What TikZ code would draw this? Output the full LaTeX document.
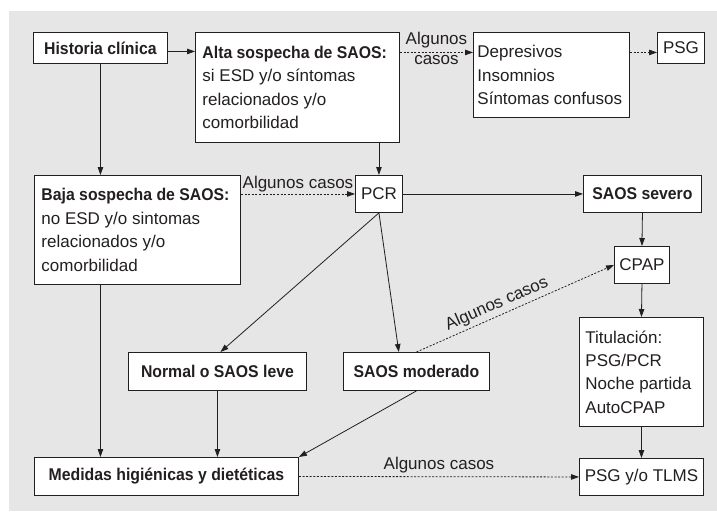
\documentclass[tikz,border=0pt]{standalone}
\usepackage{fontspec}
\setmainfont{Liberation Sans}[BoldFeatures={FakeStretch=0.93}]
\usetikzlibrary{arrows.meta,calc}
\definecolor{bggray}{RGB}{230,230,230}
\definecolor{ink}{RGB}{35,31,32}
\begin{document}
\begin{tikzpicture}[x=1pt,y=-1pt,
  every node/.style={font=\fontsize{17}{23.4}\selectfont, text=ink},
  sbox/.style={draw=ink, line width=0.9pt, fill=white, anchor=north west,
    inner sep=0pt, align=center},
  mbox/.style={draw=ink, line width=0.9pt, fill=white, anchor=north west,
    inner xsep=7pt, inner ysep=0pt, align=flush left},
  arr/.style={draw=ink, line width=0.8pt, -{Triangle[length=8pt,width=5.5pt]}},
  dsh/.style={arr, dash pattern=on 2pt off 1.6pt}
]
\useasboundingbox (0,0) rectangle (717,511);
\fill[bggray] (9,11) rectangle (717,511);

% nodes
\node[sbox, minimum width=134pt, minimum height=31pt] (hist) at (33,32) {\textbf{Historia clínica}};
\node[mbox, text width=190pt, minimum height=110pt] (alta) at (195,32)
  {\textbf{Alta sospecha de SAOS:}\\si ESD y/o síntomas\\relacionados y/o\\comorbilidad};
\node[mbox, inner xsep=4pt, text width=148pt, minimum height=85pt] (dep) at (473,32)
  {Depresivos\\Insomnios\\Síntomas confusos};
\node[sbox, minimum width=47pt, minimum height=31pt] (psga) at (657,32) {PSG};
\node[mbox, text width=192pt, minimum height=109pt] (baja) at (34,175)
  {\textbf{Baja sospecha de SAOS:}\\no ESD y/o sintomas\\relacionados y/o\\comorbilidad};
\node[sbox, minimum width=47pt, minimum height=37pt] (pcr) at (355,175) {PCR};
\node[sbox, minimum width=118pt, minimum height=37pt] (sev) at (583,175) {\textbf{SAOS severo}};
\node[sbox, minimum width=55pt, minimum height=37pt] (cpap) at (614,246) {CPAP};
\node[mbox, inner xsep=6pt, text width=112pt, minimum height=109pt] (tit) at (579,317)
  {Titulación:\\PSG/PCR\\Noche partida\\AutoCPAP};
\node[sbox, minimum width=124pt, minimum height=37pt] (tlms) at (579,458) {PSG y/o TLMS};
\node[sbox, minimum width=178pt, minimum height=38pt] (leve) at (128,352) {\textbf{Normal o SAOS leve}};
\node[sbox, minimum width=146pt, minimum height=38pt] (mod) at (343,352) {\textbf{SAOS moderado}};
\node[sbox, minimum width=264pt, minimum height=38pt] (med) at (34,457) {\textbf{Medidas higiénicas y dietéticas}};

% connectors
\draw[arr] ([yshift=-3.5pt]hist.east) -- ([yshift=-3.5pt]hist.east -| alta.west);
\draw[dsh] ([yshift=-4.5pt]alta.east |- psga.east) -- ([yshift=-4.5pt]dep.west |- psga.east)
  node[midway, above, inner sep=4pt] {Algunos}
  node[midway, below, inner sep=2.5pt] {casos};
\draw[dsh] ([yshift=-4.5pt]dep.east |- psga.west) -- ([yshift=-4.5pt]psga.west);
\draw[arr] (hist.south) -- (hist.south |- baja.north);
\draw[arr] (pcr.north |- alta.south) -- (pcr.north);
\draw[dsh] (baja.east |- pcr.west) -- (pcr.west)
  node[midway, above, inner sep=2pt] {Algunos casos};
\draw[arr] (pcr.east) -- (sev.west);
\draw[arr] (sev.south) -- (cpap.north);
\draw[arr] (cpap.south) -- (tit.north);
\draw[arr] (tit.south) -- (tlms.north);
\draw[arr] (pcr.south) -- ([xshift=3pt]leve.north);
\draw[arr] (pcr.south) -- ($(mod.north west)!0.38!(mod.north east)$);
\draw[dsh] (mod.north) -- (cpap.west)
  node[pos=0.43, above, sloped, inner sep=3pt] {Algunos casos};
\draw[arr] (mod.south) -- (med.north east);
\draw[arr] (leve.south) -- (leve.south |- med.north);
\draw[arr] (hist.south |- baja.south) -- (hist.south |- med.north);
\draw[dsh] (med.east) -- (tlms.west)
  node[midway, above, inner sep=3pt] {Algunos casos};
\end{tikzpicture}
\end{document}
